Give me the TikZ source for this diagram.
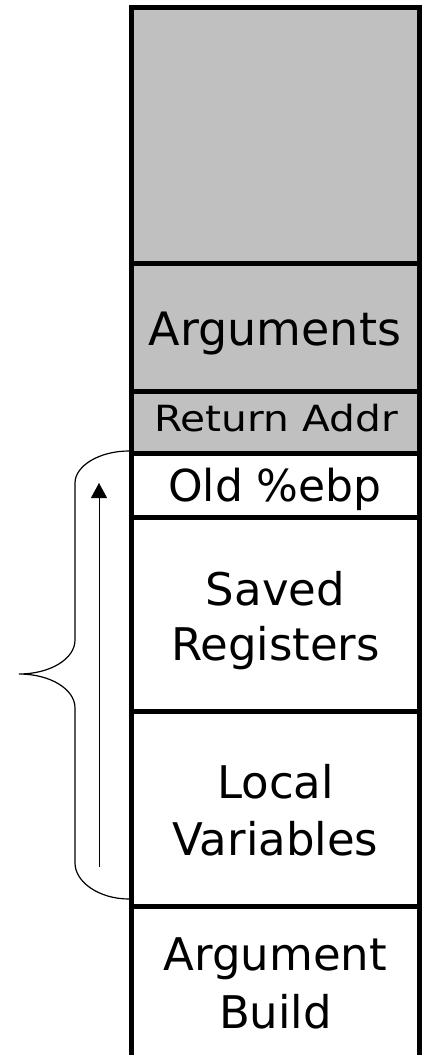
\documentclass[tikz,border=0pt]{standalone}
\usepackage{fontspec}
\setmainfont{DejaVu Sans}
\usetikzlibrary{arrows.meta,calc}
\definecolor{cellgray}{RGB}{192,192,192}
\begin{document}
\begin{tikzpicture}[x=1pt,y=-1pt,
  cell/.style={draw=black,line width=5pt,rectangle,inner sep=0pt,outer sep=0pt,minimum width=288pt},
  frametext/.style={anchor=base,inner sep=0pt,font=\fontsize{45}{54}\selectfont},
  thinline/.style={line width=1.2pt}]
\useasboundingbox (0,0) rectangle (421,1055);

% stack frame cells, top to bottom
\node[cell,fill=cellgray,minimum height=256pt]   (caller)  at (275.5,135.5)  {};
\node[cell,fill=cellgray,minimum height=128pt]   (args)    at (275.5,327.5)  {};
\node[cell,fill=cellgray,minimum height=62pt]    (retaddr) at (275.5,422.5)  {};
\node[cell,fill=white,minimum height=64pt]       (oldebp)  at (275.5,485.5)  {};
\node[cell,fill=white,minimum height=193.5pt]    (saved)   at (275.5,614.25) {};
\node[cell,fill=white,minimum height=195pt]      (locvars) at (275.5,808.5)  {};
\node[cell,fill=white,minimum height=200pt]      (argbld)  at (275.5,1006)   {};

% cell labels
\node[frametext,font=\fontsize{46}{54}\selectfont] (targs) at (275,345.5) {Arguments};
\node[frametext,font=\fontsize{36}{40}\selectfont] (tret)  at (276,431) {\scalebox{1.13}[1]{Return Addr}};
\node[frametext,font=\fontsize{44}{54}\selectfont] (tebp)  at (275,501) {Old \%ebp};
\node[frametext] (tsav1) at (275.5,605) {Saved};
\node[frametext] (tsav2) at (275.5,660) {Registers};
\node[frametext] (tloc1) at (275.5,798) {Local};
\node[frametext] (tloc2) at (275.5,855) {Variables};
\node[frametext] (tab1)  at (275.5,970.5) {Argument};
\node[frametext] (tab2)  at (275.5,1028) {Build};

% brace spanning the current frame
\coordinate (bt) at ($(oldebp.north west)+(-2.5,-2.5)$);
\coordinate (bb) at ($(locvars.south west)+(-2.5,-7)$);
\draw[thinline] (bt) .. controls (99,451) and (75,466) .. (75,483)
  -- (75,640) .. controls (75,659) and (50,674) .. (19,674)
  .. controls (50,674) and (75,689) .. (75,708)
  -- (75,863) .. controls (75,882) and (99,899) .. (bb);

% growth arrow
\coordinate (atail) at (99,867);
\coordinate (ahead) at (99,483);
\draw[line width=1pt,-{Triangle[width=16pt,length=15pt]}] (atail) -- (ahead);
\end{tikzpicture}
\end{document}
